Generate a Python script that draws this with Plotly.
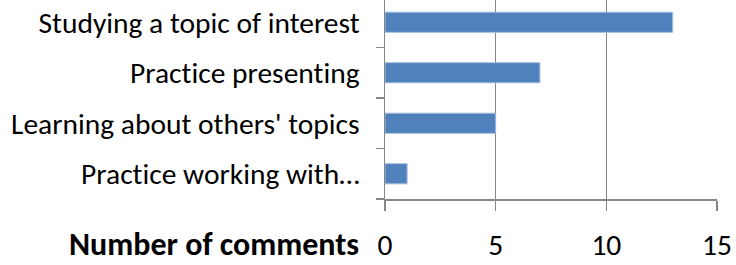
import plotly.graph_objects as go

categories = ["Practice working with…", "Learning about others' topics", "Practice presenting", "Studying a topic of interest"]
values = [1, 5, 7, 13]
x_ticks = [0, 5, 10, 15]

W, H = 736, 265
left, right, top, bottom = 385, 19, 0, 66
plot_h = H - top - bottom
band = 50.5
FS = 29.5

fig = go.Figure(go.Bar(
    y=categories, x=values, orientation="h",
    marker=dict(color="#4F81BD", line=dict(color="#A7BFDE", width=1)),
    width=0.4, hoverinfo="skip",
))

fig.update_layout(
    width=W, height=H,
    margin=dict(l=left, r=right, t=top, b=bottom, pad=0),
    paper_bgcolor="white", plot_bgcolor="white",
    font=dict(family="Carlito, Calibri, Lato, sans-serif", size=FS, color="black"),
    showlegend=False,
    bargap=0.6,
)
fig.update_xaxes(
    range=[0, 15], tickvals=x_ticks, ticktext=[str(v) for v in x_ticks],
    showgrid=True, gridcolor="#868686", gridwidth=1.5,
    showline=True, linecolor="#868686", linewidth=1.5,
    ticks="outside", ticklen=10, tickcolor="#868686", tickwidth=1.5,
    ticklabelstandoff=9, zeroline=False,
    tickfont=dict(size=FS),
    automargin=False,
)
fig.update_yaxes(
    type="category", categoryorder="array", categoryarray=categories,
    range=[-0.5, -0.5 + plot_h / band],
    showgrid=False, showline=True, linecolor="#868686", linewidth=1.5,
    ticks="outside", ticklen=8, tickcolor="#868686", tickwidth=1.5,
    tickson="boundaries", ticklabelstandoff=18,
    automargin=False,
)
fig.add_annotation(
    text="<b>Number of comments</b>", xref="paper", yref="paper",
    x=(361 - left) / (W - left - right), y=-(245 - (top + plot_h)) / plot_h,
    xanchor="right", yanchor="middle", showarrow=False,
    font=dict(size=32, color="black"),
)
post = (
    "document.body.style.margin='0';document.body.style.overflow='hidden';"
    "var s=document.createElement('style');"
    "s.textContent='text{font-variant-ligatures:none !important;font-feature-settings:\"liga\" 0,\"clig\" 0 !important;}';"
    "document.head.appendChild(s);"
)
fig.write_html("out.html", config={"displayModeBar": False, "staticPlot": True}, post_script=post)
